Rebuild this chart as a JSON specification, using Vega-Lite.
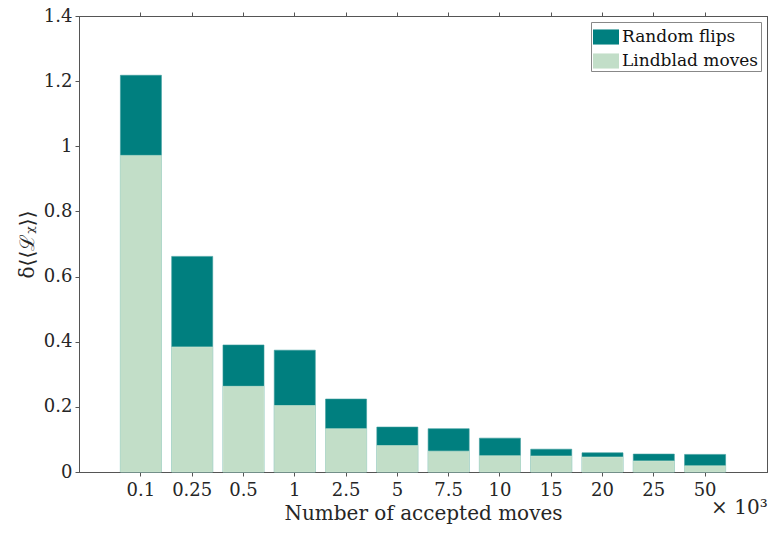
{
  "$schema": "https://vega.github.io/schema/vega-lite/v6.json",
  "width": 688,
  "height": 456,
  "autosize": "none",
  "padding": {"left": 79, "top": 16, "right": 1, "bottom": 61},
  "background": "white",
  "config": {
    "view": {"stroke": "#555555", "strokeWidth": 1},
    "font": "DejaVu Serif",
    "axis": {"grid": false, "zindex": 1, "domain": true, "domainColor": "#555555", "tickColor": "#555555", "labelColor": "#262626", "titleColor": "#262626", "labelFont": "DejaVu Serif", "titleFont": "DejaVu Serif", "labelFontSize": 18, "titleFontSize": 20, "titleFontWeight": "normal", "domainWidth": 1, "tickWidth": 1},
    "legend": {"symbolType": "M-1,-0.58H1V0.58H-1Z", "symbolSize": 676, "symbolStrokeWidth": 0}
  },
  "data": {
    "values": [
      {"n": "0.1", "rf": 1.218, "lm": 0.972},
      {"n": "0.25", "rf": 0.662, "lm": 0.384},
      {"n": "0.5", "rf": 0.390, "lm": 0.263},
      {"n": "1", "rf": 0.374, "lm": 0.204},
      {"n": "2.5", "rf": 0.224, "lm": 0.133},
      {"n": "5", "rf": 0.138, "lm": 0.081},
      {"n": "7.5", "rf": 0.133, "lm": 0.064},
      {"n": "10", "rf": 0.104, "lm": 0.050},
      {"n": "15", "rf": 0.070, "lm": 0.049},
      {"n": "20", "rf": 0.059, "lm": 0.046},
      {"n": "25", "rf": 0.055, "lm": 0.034},
      {"n": "50", "rf": 0.054, "lm": 0.019}
    ]
  },
  "layer": [
    {
      "layer": [
        {
          "mark": {"type": "bar", "stroke": "#3a9c9c", "strokeWidth": 0.6},
          "encoding": {
            "x": {"field": "n", "type": "ordinal", "sort": null,
              "scale": {"paddingInner": 0.2, "paddingOuter": 0.807},
              "axis": {"orient": "bottom", "labelAngle": 0, "tickSize": 4, "labelPadding": 5, "title": "Number of accepted moves", "titlePadding": 4}},
            "y": {"field": "rf", "type": "quantitative", "stack": null,
              "scale": {"domain": [0, 1.4], "nice": false},
              "axis": {"orient": "left", "values": [0, 0.2, 0.4, 0.6, 0.8, 1, 1.2, 1.4], "format": "~g", "tickSize": 4, "labelPadding": 3, "title": "δ⟨⟨ℒᵪ⟩⟩", "titlePadding": 6}},
            "color": {"datum": "Random flips", "type": "nominal",
              "scale": {"domain": ["Random flips", "Lindblad moves"], "range": ["#007f7f", "#c2dec8"]},
              "legend": {"title": null, "orient": "top-right", "offset": 6, "fillColor": "white", "strokeColor": "#888888", "padding": 2, "labelFont": "DejaVu Serif", "labelFontSize": 17, "labelColor": "#111111", "symbolType": "M-1,-0.58H1V0.58H-1Z", "symbolSize": 676, "symbolStrokeWidth": 0, "labelOffset": 3, "rowPadding": 3}}
          }
        },
        {
          "mark": {"type": "bar", "stroke": "#d2e9d7", "strokeWidth": 0.6},
          "encoding": {
            "x": {"field": "n", "type": "ordinal", "sort": null},
            "y": {"field": "lm", "type": "quantitative", "stack": null},
            "color": {"datum": "Lindblad moves", "type": "nominal"}
          }
        },
        {
          "data": {"values": [{"label": "× 10³"}]},
          "mark": {"type": "text", "align": "left", "baseline": "alphabetic", "dx": 6, "fontSize": 20, "font": "DejaVu Serif", "color": "#262626"},
          "encoding": {
            "x": {"datum": "50", "type": "ordinal"},
            "y": {"datum": -0.13, "type": "quantitative"},
            "text": {"field": "label"}
          }
        }
      ]
    },
    {
      "mark": {"type": "bar", "opacity": 0},
      "encoding": {
        "x": {"field": "n", "type": "ordinal", "sort": null,
          "scale": {"paddingInner": 0.2, "paddingOuter": 0.807},
          "axis": {"orient": "top", "labels": false, "tickSize": 4, "title": null}},
        "y": {"field": "rf", "type": "quantitative", "stack": null,
          "scale": {"domain": [0, 1.4], "nice": false},
          "axis": {"orient": "right", "labels": false, "values": [0, 0.2, 0.4, 0.6, 0.8, 1, 1.2, 1.4], "tickSize": 4, "title": null}}
      }
    }
  ],
  "resolve": {"scale": {"x": "independent", "y": "independent"}, "axis": {"x": "independent", "y": "independent"}}
}
